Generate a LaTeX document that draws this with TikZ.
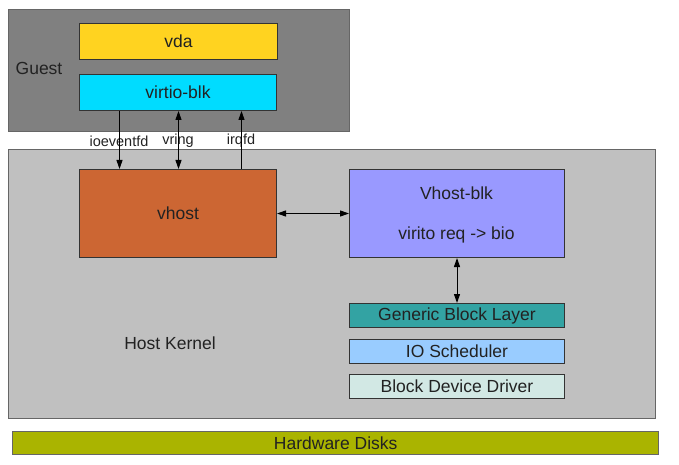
\documentclass[tikz,border=0pt]{standalone}
\usepackage{fontspec}
\setmainfont{Liberation Sans}
\usetikzlibrary{arrows.meta}
\definecolor{guestc}{HTML}{808080}
\definecolor{hostc}{HTML}{C0C0C0}
\definecolor{vdac}{HTML}{FFD320}
\definecolor{virtc}{HTML}{00DCFF}
\definecolor{vhostc}{HTML}{CC6633}
\definecolor{vblkc}{HTML}{9999FF}
\definecolor{genc}{HTML}{33A3A3}
\definecolor{ioc}{HTML}{99CCFF}
\definecolor{bddc}{HTML}{D2E8E4}
\definecolor{hwc}{HTML}{AAB400}
\definecolor{txtc}{HTML}{222222}
\definecolor{edgec}{HTML}{333333}
\definecolor{outc}{HTML}{666666}
\begin{document}
\begin{tikzpicture}[x=1pt,y=-1pt,
  font=\fontsize{17.5}{20}\selectfont, text=txtc,
  outer/.style={draw=outc, line width=1.4pt, inner sep=0pt, anchor=north west},
  inbox/.style={draw=edgec, line width=1pt, inner sep=0pt, anchor=north west},
  lbl/.style={font=\fontsize{14.5}{16}\selectfont, inner sep=0pt},
  conn/.style={line width=1pt, draw=black},
  tip/.style={-{Triangle[length=9pt,width=6pt]}},
  tips/.style={{Triangle[length=9pt,width=6pt]}-{Triangle[length=9pt,width=6pt]}}
]
\useasboundingbox (0,0) rectangle (679,465);
% containers
\node[outer, fill=guestc, minimum width=341pt, minimum height=122pt] (guest) at (8,9) {};
\node[outer, fill=hostc, minimum width=647pt, minimum height=269pt] (host) at (8,149) {};
\node[text=txtc] (guestlbl) at (39,68) {Guest};
\node[text=txtc] (hostlbl) at (170,343) {Host Kernel};
% guest boxes
\node[inbox, fill=vdac, minimum width=198pt, minimum height=36pt] (vda) at (79,23) {};
\node at (vda.center) (vdat) {vda};
\node[inbox, fill=virtc, minimum width=197pt, minimum height=36pt] (virtio) at (79,74) {};
\node at (virtio.center) (virtiot) {virtio-blk};
% host boxes
\node[inbox, fill=vhostc, minimum width=197pt, minimum height=88pt] (vhost) at (79,169) {};
\node at (vhost.center) (vhostt) {vhost};
\node[inbox, fill=vblkc, minimum width=215pt, minimum height=88pt] (vblk) at (349,169) {};
\node (vblkt1) at (456.5,193) {Vhost-blk};
\node (vblkt2) at (456.5,235) {virito req -> bio};
\node[inbox, fill=genc, minimum width=215pt, minimum height=24pt] (gen) at (349,303) {};
\node at (gen.center) (gent) {Generic Block Layer};
\node[inbox, fill=ioc, minimum width=215pt, minimum height=24pt] (io) at (349,339) {};
\node at (io.center) (iot) {IO Scheduler};
\node[inbox, fill=bddc, minimum width=215pt, minimum height=24pt] (bdd) at (349,374) {};
\node at (bdd.center) (bddt) {Block Device Driver};
% hardware
\node[inbox, draw=outc, line width=1.4pt, fill=hwc, minimum width=646pt, minimum height=23pt] (hw) at (12,431) {};
\node at (hw.center) (hwt) {Hardware Disks};
% labels
\node[lbl] (ioe) at (119,141) {ioeventfd};
\node[lbl] (vring) at (178,141) {vring};
\node[lbl] (irq) at (241,141) {irqfd};
% connectors
\draw[conn, tip] ([xshift=-58.5pt]virtio.south) -- ([xshift=-58.5pt]vhost.north);
\draw[conn, tips] ([xshift=0.5pt]virtio.south) -- ([xshift=0.5pt]vhost.north);
\draw[conn, tip] ([xshift=63.5pt]vhost.north) -- ([xshift=63.5pt]virtio.south);
\draw[conn, tips] (vhost.east) -- (vblk.west);
\draw[conn, tips] (vblk.south) -- (gen.north);
\end{tikzpicture}
\end{document}
